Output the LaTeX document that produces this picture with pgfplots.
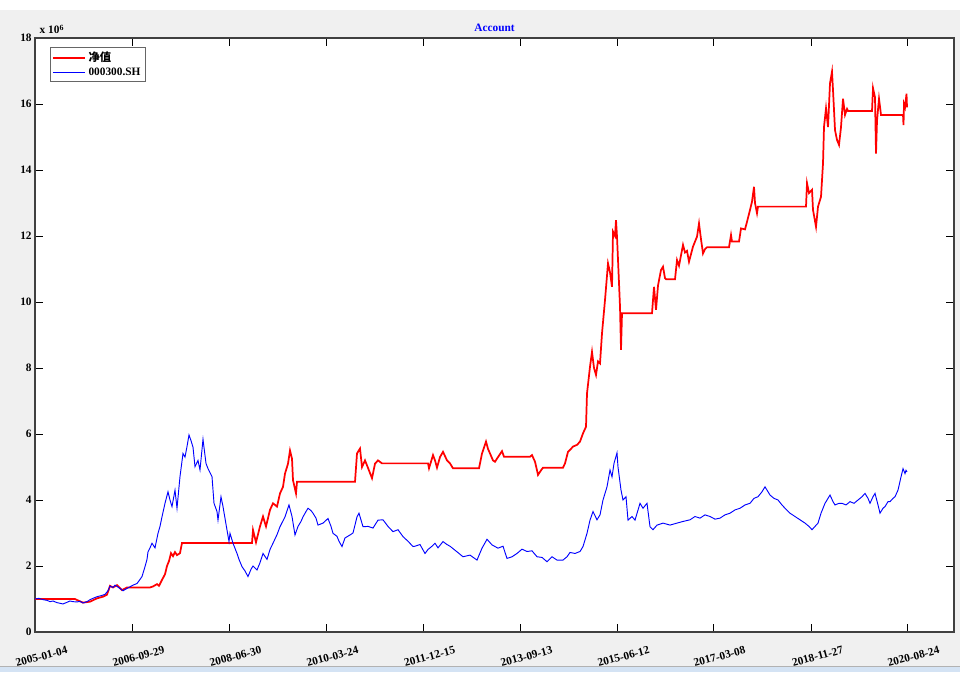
\documentclass[border=0pt]{standalone}
\usepackage{pgfplots}
\pgfplotsset{compat=1.18}
\usepackage{fontspec}
\setmainfont{Liberation Serif}
\newfontfamily\cjk{Noto Sans CJK SC}

\definecolor{figgray}{HTML}{F0F0F0}
\definecolor{barblue}{HTML}{D4E3F4}

\begin{document}
\begin{tikzpicture}
  % figure background (1px = 0.75pt)
  \fill[white] (0pt,0pt) rectangle (724.5pt,504pt);
  \fill[figgray] (0pt,4.5pt) rectangle (720pt,496.5pt);
  \fill[barblue] (0pt,0pt) rectangle (720pt,4pt);
  \draw[gray!60, line width=0.6pt] (0pt,4.5pt) -- (720pt,4.5pt);

  \begin{axis}[
      at={(26.25pt,30pt)}, anchor=south west,
      scale only axis,
      width=689.25pt, height=445.5pt,
      axis background/.style={fill=white},
      clip mode=individual,
      xmin=0, xmax=919,
      ymin=0, ymax=18,
      xtick={0,97,194,291,388,485,582,678,776,872},
      xticklabels={2005-01-04,2006-09-29,2008-06-30,2010-03-24,2011-12-15,2013-09-13,2015-06-12,2017-03-08,2018-11-27,2020-08-24},
      ytick={0,2,...,18},
      tick align=inside,
      major tick length=6pt,
      tick style={black, line width=0.6pt},
      axis line style={black!75, line width=0.8pt},
      ticklabel style={font=\bfseries\fontsize{8.5}{10}\selectfont},
      /pgf/number format/assume math mode=true,
      xticklabel style={rotate=15, anchor=center, yshift=-19pt},
      yticklabel style={xshift=1pt},
      title={Account},
      title style={at={(0.5,1)}, anchor=base, yshift=-1pt, text=blue,
                   font=\bfseries\fontsize{8.5}{10}\selectfont},
      legend style={at={(0.016,0.985)}, anchor=north west,
                    draw=black!60, line width=0.6pt, fill=white,
                    font=\bfseries\fontsize{8.5}{10}\selectfont,
                    inner sep=1.5pt, row sep=-1pt},
      legend cell align=left,
      legend image code/.code={\draw[#1] (0pt,0pt) -- (24pt,0pt);},
    ]

    % net value (x10^6)
    \addplot[red, line width=1.3pt] coordinates {
      (0,1.00) (40,1.00) (42,0.97) (48,0.89) (55,0.92) (62,1.02) (68,1.07)
      (72,1.13) (75,1.40) (78,1.35) (82,1.42) (87,1.27) (92,1.35) (115,1.35)
      (118,1.38) (122,1.45) (124,1.40) (127,1.58) (130,1.75) (132,2.00)
      (134,2.15) (136,2.39) (138,2.30) (140,2.42) (142,2.33) (145,2.39)
      (147,2.70) (217,2.70) (218,3.09) (221,2.72) (225,3.20) (228,3.50)
      (231,3.20) (235,3.70) (238,3.90) (242,3.80) (245,4.20) (248,4.40)
      (250,4.80) (253,5.10) (255,5.50) (257,5.25) (258,4.60) (261,4.20)
      (262,4.55) (320,4.55) (322,5.41) (325,5.56) (327,5.00) (330,5.20)
      (332,5.05) (337,4.66) (340,5.10) (343,5.20) (347,5.11) (393,5.11)
      (394,4.96) (398,5.36) (400,5.20) (402,4.98) (405,5.30) (408,5.46)
      (412,5.20) (415,5.11) (418,4.96) (444,4.96) (447,5.41) (451,5.77)
      (453,5.55) (455,5.41) (458,5.20) (460,5.16) (463,5.30) (467,5.48)
      (469,5.31) (495,5.31) (497,5.36) (500,5.16) (502,4.90) (503,4.76)
      (506,4.90) (508,4.98) (528,4.98) (530,5.11) (533,5.46) (536,5.55)
      (538,5.62) (542,5.67) (545,5.77) (548,6.02) (551,6.22) (552,7.23)
      (555,8.04) (557,8.49) (559,8.00) (561,7.79) (563,8.20) (565,8.14)
      (567,9.05) (570,10.06) (572,10.80) (573,11.17) (575,10.90) (577,10.46)
      (578,12.13) (580,12.00) (581,12.48) (582,11.98) (584,10.57) (585,9.86)
      (586,8.55) (587,9.66) (617,9.66) (619,10.46) (621,9.76) (623,10.50)
      (626,10.97) (628,11.07) (630,10.72) (631,10.69) (640,10.69) (642,11.27)
      (644,11.10) (648,11.73) (650,11.50) (652,11.55) (654,11.22) (658,11.68)
      (662,11.98) (664,12.38) (666,11.90) (668,11.47) (670,11.60) (672,11.66)
      (694,11.66) (696,12.03) (697,11.83) (704,11.83) (706,12.23) (710,12.20)
      (712,12.43) (715,12.79) (717,13.04) (719,13.49) (720,13.00) (722,12.69)
      (723,12.89) (771,12.89) (772,13.60) (774,13.30) (777,13.40) (778,12.79)
      (781,12.28) (783,12.89) (786,13.19) (788,14.20) (789,15.31) (791,15.87)
      (793,15.30) (795,16.63) (797,16.98) (798,16.42) (800,15.21) (802,14.91)
      (804,14.76) (806,15.30) (808,16.16) (810,15.67) (812,15.85) (813,15.79)
      (837,15.79) (838,16.48) (840,16.20) (841,14.50) (842,15.50) (844,16.16)
      (846,15.67) (868,15.67) (868.5,15.36) (869,16.00) (870,15.90) (871.5,16.31)
      (872,15.90)
    };
    \addlegendentry{{\cjk\bfseries 净值}}

    % CSI 300 index, rebased (x10^6)
    \addplot[blue, line width=0.7pt] coordinates {
      (0,1.00) (4,1.02) (8,0.98) (12,0.96) (15,0.92) (18,0.94) (22,0.89)
      (25,0.87) (28,0.85) (32,0.90) (35,0.94) (38,0.92) (42,0.91) (45,0.93)
      (48,0.88) (52,0.92) (55,0.98) (58,1.02) (62,1.07) (66,1.10) (70,1.14)
      (73,1.25) (75,1.39) (78,1.35) (80,1.42) (83,1.36) (86,1.30) (88,1.25)
      (92,1.32) (95,1.37) (98,1.42) (102,1.47) (104,1.55) (107,1.68)
      (110,1.98) (112,2.20) (113,2.43) (115,2.55) (117,2.69) (120,2.55)
      (123,2.99) (125,3.20) (127,3.49) (130,3.90) (133,4.25) (135,4.00)
      (137,3.80) (140,4.30) (142,3.75) (145,4.71) (148,5.41) (150,5.30)
      (152,5.62) (154,5.97) (156,5.80) (158,5.60) (160,5.01) (163,5.20)
      (165,4.91) (168,5.84) (171,5.11) (173,4.95) (177,4.71) (179,3.90)
      (182,3.65) (183,3.39) (186,4.10) (188,3.80) (192,3.09) (194,2.74)
      (195,2.99) (198,2.69) (202,2.38) (204,2.20) (207,1.98) (210,1.85)
      (213,1.68) (216,1.90) (218,2.00) (222,1.88) (225,2.10) (228,2.38)
      (232,2.20) (235,2.50) (238,2.69) (242,2.95) (245,3.19) (250,3.49)
      (254,3.85) (257,3.50) (260,2.94) (263,3.20) (266,3.35) (268,3.49)
      (271,3.65) (273,3.75) (276,3.68) (278,3.60) (281,3.45) (283,3.24)
      (288,3.30) (293,3.44) (296,3.20) (298,2.99) (302,2.90) (304,2.75)
      (307,2.59) (310,2.85) (315,2.94) (318,3.00) (322,3.49) (324,3.60)
      (328,3.19) (333,3.20) (338,3.15) (343,3.39) (348,3.40) (353,3.20)
      (358,3.04) (363,3.10) (368,2.89) (373,2.75) (378,2.59) (380,2.60)
      (385,2.65) (390,2.38) (393,2.50) (397,2.60) (400,2.69) (403,2.55)
      (408,2.74) (412,2.65) (415,2.60) (422,2.43) (428,2.28) (435,2.33)
      (442,2.18) (447,2.54) (452,2.81) (457,2.64) (463,2.54) (468,2.60)
      (472,2.23) (477,2.28) (482,2.38) (487,2.51) (492,2.44) (497,2.46)
      (502,2.28) (507,2.26) (512,2.13) (517,2.28) (522,2.18) (528,2.18)
      (532,2.28) (535,2.41) (540,2.38) (545,2.44) (548,2.59) (552,2.99)
      (555,3.39) (558,3.65) (562,3.40) (565,3.55) (568,4.00) (572,4.40)
      (575,4.91) (577,4.70) (579,5.11) (582,5.43) (583,5.00) (586,4.30)
      (588,4.00) (591,4.10) (593,3.39) (597,3.50) (600,3.39) (605,3.90)
      (608,3.75) (612,3.90) (615,3.19) (618,3.10) (622,3.24) (628,3.30)
      (635,3.24) (642,3.30) (648,3.35) (655,3.40) (660,3.50) (665,3.45)
      (670,3.55) (675,3.50) (680,3.42) (685,3.45) (690,3.55) (695,3.60)
      (700,3.70) (705,3.75) (710,3.85) (715,3.90) (719,4.05) (723,4.10)
      (727,4.25) (730,4.40) (733,4.25) (735,4.15) (739,4.05) (743,4.00)
      (747,3.85) (750,3.75) (755,3.60) (760,3.50) (765,3.40) (770,3.30)
      (774,3.20) (777,3.10) (780,3.20) (783,3.30) (786,3.60) (790,3.90)
      (793,4.05) (795,4.15) (798,3.95) (800,3.85) (804,3.90) (807,3.90)
      (811,3.85) (815,3.95) (819,3.90) (823,4.00) (827,4.10) (830,4.20)
      (833,4.05) (835,3.90) (838,4.10) (840,4.20) (843,3.85) (845,3.60)
      (848,3.75) (850,3.80) (853,3.95) (855,3.95) (858,4.05) (860,4.10)
      (863,4.30) (866,4.70) (868,4.95) (870,4.80) (871,4.90) (872,4.85)
    };
    \addlegendentry{000300.SH}

    \node[anchor=base west, font=\bfseries\fontsize{8.5}{10}\selectfont, yshift=3pt]
      at (rel axis cs:0,1) {x 10\textsuperscript{6}};
  \end{axis}
  \pgfresetboundingbox
  \useasboundingbox (0pt,0pt) rectangle (724.5pt,504pt);
\end{tikzpicture}
\end{document}
